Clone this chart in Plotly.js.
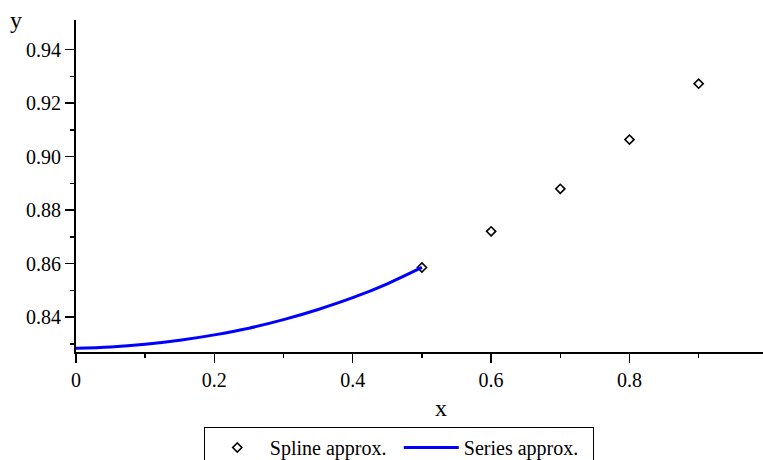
<!DOCTYPE html>
<html>
<head>
<meta charset="utf-8">
<script src="https://cdn.plot.ly/plotly-3.0.1.min.js"></script>
<style>html,body{margin:0;padding:0;background:#fff;}#chart{width:763px;height:460px;}</style>
</head>
<body>
<div id="chart"></div>
<script>
const splineX = [0.5, 0.6, 0.7, 0.8, 0.9];
const splineY = [0.8586, 0.8721, 0.8880, 0.9064, 0.9273];
const seriesX = [0, 0.05, 0.1, 0.15, 0.2, 0.25, 0.3, 0.35, 0.4, 0.45, 0.5];
const seriesY = [0.8284, 0.8289, 0.8299, 0.8314, 0.8334, 0.8359, 0.8391, 0.8429, 0.8473, 0.8525, 0.8586];
const xTicks = [0, 0.2, 0.4, 0.6, 0.8];
const xTickText = ['0', '0.2', '0.4', '0.6', '0.8'];
const yTicks = [0.84, 0.86, 0.88, 0.90, 0.92, 0.94];
const yTickText = ['0.84', '0.86', '0.88', '0.90', '0.92', '0.94'];

const FAM = 'Liberation Serif';
const font = {family: FAM, size: 20, color: '#000'};

const traces = [
  {x: splineX, y: splineY, type: 'scatter', mode: 'markers', name: 'Spline approx.',
   marker: {symbol: 'diamond-open', size: 7, color: '#000', line: {width: 1.6, color: '#000'}}},
  {x: seriesX, y: seriesY, type: 'scatter', mode: 'lines', name: 'Series approx.',
   line: {color: '#0000ff', width: 3, shape: 'spline', smoothing: 1}}
];

const layout = {
  width: 763, height: 460,
  margin: {l: 76, r: 0, t: 20, b: 108, autoexpand: false},
  paper_bgcolor: '#fff', plot_bgcolor: '#fff',
  font: font,
  showlegend: true,
  xaxis: {
    range: [0, 0.993], showgrid: false, zeroline: false,
    showline: true, linecolor: '#000', linewidth: 2,
    ticks: 'outside', ticklen: 9, tickwidth: 1.5, tickcolor: '#000',
    tickvals: xTicks, ticktext: xTickText, tickfont: {family: FAM, size: 20, color: '#000'},
    minor: {ticks: 'outside', ticklen: 4, tickwidth: 1.5, tickcolor: '#000', tickvals: [0.1, 0.3, 0.5, 0.7, 0.9], showgrid: false}
  },
  yaxis: {
    range: [0.8270, 0.9511], showgrid: false, zeroline: false,
    showline: true, linecolor: '#000', linewidth: 2,
    ticks: 'outside', ticklen: 9, tickwidth: 1.5, tickcolor: '#000',
    tickvals: yTicks, ticktext: yTickText, tickfont: {family: FAM, size: 20, color: '#000'},
    minor: {ticks: 'outside', ticklen: 4, tickwidth: 1.5, tickcolor: '#000', tickvals: [0.83, 0.85, 0.87, 0.89, 0.91, 0.93], showgrid: false}
  },
  legend: {
    orientation: 'h', xref: 'paper', yref: 'paper',
    x: 0.186, y: -0.226, xanchor: 'left', yanchor: 'top',
    bordercolor: '#000', borderwidth: 1, bgcolor: '#fff',
    itemwidth: 55, entrywidth: 124, entrywidthmode: 'pixels',
    font: {family: FAM, size: 20, color: '#000'}
  },
  annotations: [
    {text: 'y', xref: 'paper', yref: 'paper', x: -0.087, y: 1.0, xanchor: 'center', yanchor: 'middle',
     showarrow: false, font: {family: FAM, size: 24, color: '#000'}},
    {text: 'x', xref: 'paper', yref: 'paper', x: 0.531, y: -0.17, xanchor: 'center', yanchor: 'middle',
     showarrow: false, font: {family: FAM, size: 24, color: '#000'}}
  ]
};

Plotly.newPlot('chart', traces, layout, {displayModeBar: false, staticPlot: true});
</script>
</body>
</html>
